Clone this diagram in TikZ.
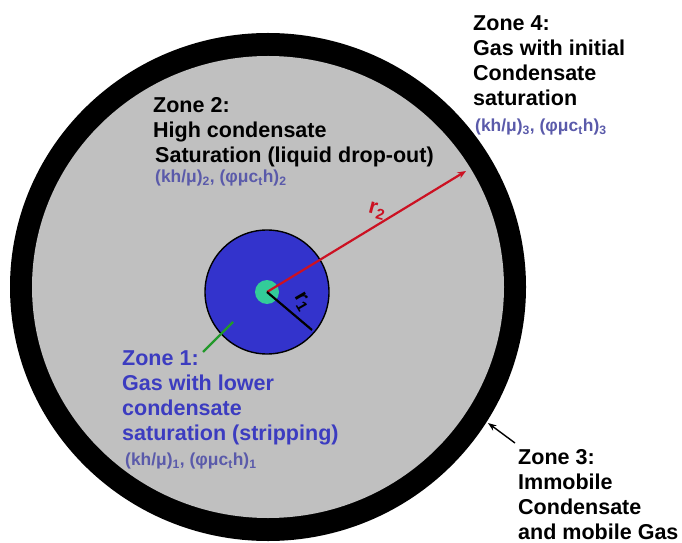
\documentclass[tikz,border=0pt]{standalone}
\usepackage{fontspec}
\setmainfont{Liberation Sans}
\usepackage{xcolor}
\usepackage{tikz}
\usetikzlibrary{arrows.meta,calc}
\definecolor{cGas}{HTML}{C0C0C0}
\definecolor{cNear}{HTML}{3333CC}
\definecolor{cWell}{HTML}{33CC99}
\definecolor{cRad}{HTML}{CC1122}
\definecolor{cPtr}{HTML}{22992A}
\definecolor{cZoneOne}{HTML}{3C3CC0}
\definecolor{cParam}{HTML}{5A5AAA}
\newcommand{\ZoneFont}{\fontsize{21.6}{25.3}\selectfont\bfseries}
\newcommand{\ParFont}{\fontsize{17.5}{20}\selectfont\bfseries}
\tikzset{
  zonetxt/.style={font=\ZoneFont, align=left, inner sep=0pt, anchor=north west},
  partxt/.style={font=\ParFont, text=cParam, inner sep=0pt, anchor=west},
  radlbl/.style={font=\ZoneFont, inner sep=0pt},
  radarr/.style={-{Stealth[length=3mm,width=2.4mm]}, line width=2.2pt, cRad},
  ptrarr/.style={-{Stealth[length=3mm,width=2.2mm]}, line width=1.4pt, black}
}
\newcommand{\KH}[1]{(kh/μ)\textsubscript{#1}, (φμc\textsubscript{t}h)\textsubscript{#1}}

\begin{document}
\begin{tikzpicture}[x=1bp, y=-1bp]
\useasboundingbox (0,0) rectangle (682,543);
% reservoir rings (zone 3 ring, zone 2 gas, zone 1 near well)
\fill[black] (268,287) ellipse [x radius=258, y radius=254];
\fill[cGas]  (268,287) ellipse [x radius=236, y radius=231];
\draw[fill=cNear, line width=1.4pt] (267,292) circle [radius=62];
\fill[cWell] (267,292) circle [radius=12];
\coordinate (well) at (267,292);
\coordinate (rtwo) at (466,171);
\coordinate (rone) at (312,330);
% radii
\draw[radarr] (well) -- (rtwo);
\draw[line width=2.2pt] (well) -- (rone);
\node[radlbl, text=cRad, rotate=-15] (rtwolbl) at (377,211) {r\textsubscript{2}};
\node[radlbl, rotate=-60] (ronelbl) at (302,302) {r\textsubscript{1}};
% zone labels
\node[zonetxt] (zonetwo) at (153,97) {Zone 2:\\High condensate\\\hspace{2pt}Saturation (liquid drop-out)};
\node[partxt] (partwo) at (155,178) {\KH{2}};
\node[zonetxt] (zonefour) at (473,15) {Zone 4:\\Gas with initial\\Condensate\\saturation};
\node[partxt] (parfour) at (475,127) {\KH{3}};
\node[zonetxt, text=cZoneOne] (zoneone) at (122,350) {Zone 1:\\Gas with lower\\condensate\\saturation (stripping)};
\node[partxt] (parone) at (125,461) {\KH{1}};
\node[zonetxt] (zonethree) at (518,449) {Zone 3:\\Immobile\\Condensate\\and mobile Gas};
% pointers
\coordinate (onetail) at (203,352);
\coordinate (onehead) at (233,322);
\draw[cPtr, line width=2.2pt] (onetail) -- (onehead);
\coordinate (threetail) at (515,443);
\coordinate (threehead) at (488,423);
\draw[ptrarr] (threetail) -- (threehead);
\end{tikzpicture}
\end{document}
